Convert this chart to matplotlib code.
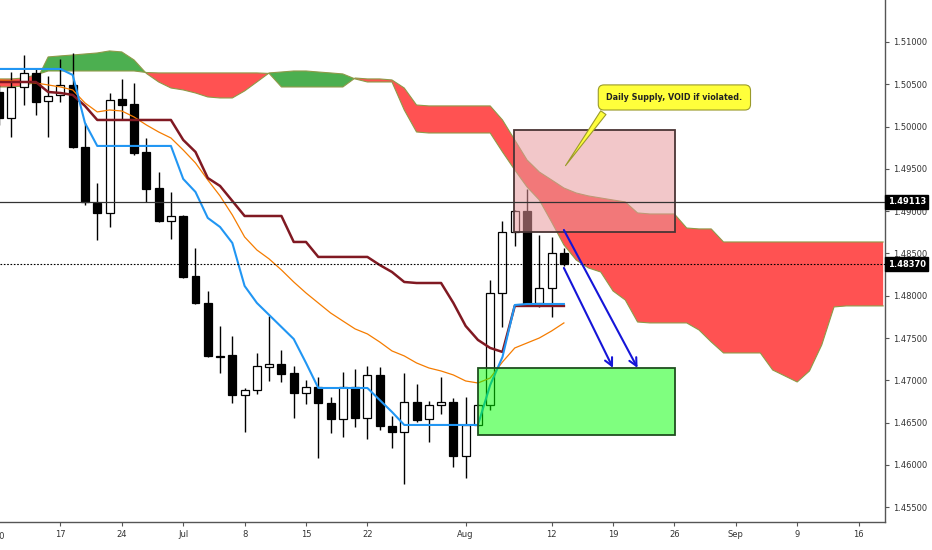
import numpy as np
import matplotlib
matplotlib.use("Agg")
import matplotlib.pyplot as plt
import matplotlib.transforms as mtransforms
from matplotlib.patches import Rectangle

# daily candles, Jun 10 .. Aug 13 (trading-day index 0..46)
opens = [1.50409, 1.50102, 1.50468, 1.50634, 1.50303, 1.50374, 1.50492, 1.49759, 1.49100, 1.48979,
         1.50326, 1.50267, 1.49700, 1.49274, 1.48884, 1.48943, 1.48234, 1.47915, 1.47289, 1.47300,
         1.46828, 1.46887, 1.47158, 1.47194, 1.47087, 1.46851, 1.46922, 1.46733, 1.46544, 1.46922,
         1.46556, 1.47064, 1.46461, 1.46390, 1.46745, 1.46544, 1.46709, 1.46745, 1.46106, 1.46473,
         1.46709, 1.48033, 1.48754, 1.49002, 1.47915, 1.48092, 1.48506]
highs = [1.50492, 1.50645, 1.50846, 1.50681, 1.50598, 1.50799, 1.50870, 1.50043, 1.49333, 1.50397,
         1.50563, 1.50515, 1.49865, 1.49463, 1.49227, 1.48955, 1.48565, 1.48057, 1.47643, 1.47525,
         1.46910, 1.47324, 1.47761, 1.47359, 1.47170, 1.47005, 1.47040, 1.46804, 1.47099, 1.47135,
         1.47170, 1.47158, 1.46579, 1.47087, 1.46958, 1.46757, 1.47040, 1.46792, 1.46804, 1.46721,
         1.48187, 1.48884, 1.49014, 1.49262, 1.48719, 1.48695, 1.48565]
lows = [1.50019, 1.49877, 1.50255, 1.50137, 1.49877, 1.50291, 1.49747, 1.49073, 1.48660, 1.48813,
        1.50078, 1.49664, 1.49109, 1.48872, 1.48671, 1.48210, 1.47903, 1.47277, 1.47087, 1.46733,
        1.46390, 1.46839, 1.46993, 1.46981, 1.46556, 1.46721, 1.46083, 1.46378, 1.46331, 1.46449,
        1.46307, 1.46414, 1.46201, 1.45775, 1.46508, 1.46272, 1.46603, 1.45976, 1.45846, 1.46461,
        1.46650, 1.47631, 1.48589, 1.47891, 1.47868, 1.47749, 1.48355]
closes = [1.50102, 1.50468, 1.50634, 1.50291, 1.50362, 1.50492, 1.49759, 1.49109, 1.48979, 1.50314,
          1.50255, 1.49688, 1.49262, 1.48884, 1.48943, 1.48222, 1.47915, 1.47289, 1.47277, 1.46828,
          1.46887, 1.47170, 1.47194, 1.47076, 1.46851, 1.46922, 1.46733, 1.46544, 1.46922, 1.46556,
          1.47064, 1.46461, 1.46390, 1.46745, 1.46532, 1.46709, 1.46745, 1.46106, 1.46473, 1.46709,
          1.48033, 1.48754, 1.49002, 1.47903, 1.48092, 1.48506, 1.48370]

# ichimoku conversion / base lines and the orange average
tenkan = [1.50681, 1.50681, 1.50681, 1.50681, 1.50681, 1.50681, 1.50610, 1.50043, 1.49771, 1.49771,
          1.49771, 1.49771, 1.49771, 1.49771, 1.49771, 1.49381, 1.49227, 1.48920, 1.48813, 1.48624,
          1.48116, 1.47915, 1.47773, 1.47631, 1.47489, 1.47206, 1.46910, 1.46910, 1.46910, 1.46910,
          1.46910, 1.46768, 1.46627, 1.46473, 1.46473, 1.46473, 1.46473, 1.46473, 1.46473, 1.46473,
          1.46946, 1.47277, 1.47891, 1.47903, 1.47903, 1.47903, 1.47903]
kijun = [1.50527, 1.50527, 1.50527, 1.50527, 1.50409, 1.50397, 1.50374, 1.50244, 1.50078, 1.50078,
         1.50078, 1.50078, 1.50078, 1.50078, 1.50078, 1.49842, 1.49700, 1.49392, 1.49298, 1.49121,
         1.48943, 1.48943, 1.48943, 1.48943, 1.48636, 1.48636, 1.48459, 1.48459, 1.48459, 1.48459,
         1.48459, 1.48364, 1.48281, 1.48163, 1.48151, 1.48151, 1.48151, 1.47915, 1.47643, 1.47478,
         1.47383, 1.47336, 1.47880, 1.47880, 1.47880, 1.47880, 1.47880]
ema = [1.50551, 1.50539, 1.50527, 1.50515, 1.50492, 1.50468, 1.50433, 1.50279, 1.50173, 1.50196,
       1.50184, 1.50113, 1.50019, 1.49936, 1.49865, 1.49723, 1.49570, 1.49369, 1.49180, 1.48955,
       1.48695, 1.48541, 1.48435, 1.48305, 1.48163, 1.48033, 1.47915, 1.47797, 1.47702, 1.47608,
       1.47549, 1.47454, 1.47348, 1.47289, 1.47206, 1.47147, 1.47111, 1.47064, 1.46993, 1.46969,
       1.47028, 1.47218, 1.47383, 1.47442, 1.47501, 1.47584, 1.47679]

# cloud, already shifted forward (index 0..72)
span_a = [1.50468, 1.50468, 1.50480, 1.50527, 1.50823, 1.50835, 1.50846, 1.50858, 1.50870, 1.50894,
          1.50882, 1.50787, 1.50628, 1.50527, 1.50456, 1.50433, 1.50397, 1.50350, 1.50338, 1.50338,
          1.50421, 1.50527, 1.50634, 1.50645, 1.50657, 1.50657, 1.50645, 1.50634, 1.50622, 1.50563,
          1.50527, 1.50527, 1.50527, 1.50196, 1.49936, 1.49924, 1.49924, 1.49924, 1.49924, 1.49924,
          1.49924, 1.49700, 1.49487, 1.49286, 1.49132, 1.48872, 1.48601, 1.48423, 1.48329, 1.48281,
          1.48057, 1.47950, 1.47690, 1.47679, 1.47679, 1.47679, 1.47679, 1.47596, 1.47454, 1.47324,
          1.47324, 1.47324, 1.47324, 1.47123, 1.47052, 1.46981, 1.47111, 1.47419, 1.47868, 1.47880,
          1.47880, 1.47880, 1.47880]
span_b = [1.50563, 1.50563, 1.50574, 1.50610, 1.50657, 1.50657, 1.50657, 1.50657, 1.50657, 1.50657,
          1.50657, 1.50657, 1.50639, 1.50634, 1.50634, 1.50634, 1.50634, 1.50634, 1.50634, 1.50634,
          1.50634, 1.50634, 1.50628, 1.50468, 1.50468, 1.50468, 1.50468, 1.50468, 1.50468, 1.50574,
          1.50563, 1.50563, 1.50551, 1.50456, 1.50255, 1.50244, 1.50244, 1.50244, 1.50244, 1.50244,
          1.50244, 1.50078, 1.49842, 1.49605, 1.49463, 1.49369, 1.49274, 1.49215, 1.49180, 1.49156,
          1.49132, 1.49109, 1.48979, 1.48967, 1.48967, 1.48967, 1.48801, 1.48790, 1.48790, 1.48636,
          1.48636, 1.48636, 1.48636, 1.48636, 1.48636, 1.48636, 1.48636, 1.48636, 1.48636, 1.48636,
          1.48636, 1.48636, 1.48636]

tick_pos = [5, 10, 15, 20, 25, 30, 38, 45, 50, 55, 60, 65, 70]
tick_labels = ["17", "24", "Jul", "8", "15", "22", "Aug", "12", "19", "26", "Sep", "9", "16"]
price_ticks = [1.455, 1.460, 1.465, 1.470, 1.475, 1.480, 1.485, 1.490, 1.495, 1.500, 1.505, 1.510]

# drawn zones
supply_zone = (41.95, 55.05, 1.48754, 1.49960)
demand_zone = (39.0, 55.05, 1.46355, 1.47147)
arrows = [((46.0, 1.48329), (50.0, 1.47147)), ((46.0, 1.48778), (52.0, 1.47147))]
level_line = 1.49113
last_price = 1.48370

fig = plt.figure(figsize=(9.32, 5.5), dpi=100)
ax = fig.add_axes([0, 28 / 550, 885 / 932, 522 / 550])
ax.set_xlim(0.08, 72.15)
ax.set_ylim(1.45326, 1.51496)

# cloud
lead_x = np.arange(len(span_a))
a = np.array(span_a)
b = np.array(span_b)
ax.fill_between(lead_x, a, b, where=a >= b, interpolate=True, color="#4caf50", lw=0, zorder=1)
ax.fill_between(lead_x, a, b, where=a < b, interpolate=True, color="#ff5252", lw=0, zorder=1)
ax.plot(lead_x, a, color="#8e9a48", lw=0.8, zorder=1.5)
ax.plot(lead_x, b, color="#8e9a48", lw=0.8, zorder=1.5)

# candles
x = np.arange(len(closes))
o = np.array(opens)
c = np.array(closes)
up = c >= o
ax.vlines(x, lows, highs, color="black", lw=1, zorder=3)
body_lo = np.minimum(o, c)
body_h = np.maximum(np.abs(c - o), 0.00003)
ax.bar(x, body_h, bottom=body_lo, width=0.65, color=np.where(up, "white", "black"),
       edgecolor="black", lw=0.9, zorder=4)

# indicator lines
ax.plot(x, ema, color="#f57c00", lw=0.9, zorder=5)
ax.plot(x, kijun, color="#801922", lw=1.8, zorder=5)
ax.plot(x, tenkan, color="#2196f3", lw=1.5, zorder=5)

# zones
x0, x1, y0, y1 = supply_zone
ax.add_patch(Rectangle((x0, y0), x1 - x0, y1 - y0, facecolor=(0.91, 0.60, 0.61, 0.54),
                       edgecolor="#4a3535", lw=1.3, zorder=6))
x0, x1, y0, y1 = demand_zone
ax.add_patch(Rectangle((x0, y0), x1 - x0, y1 - y0, facecolor=(0.0, 1.0, 0.0, 0.5),
                       edgecolor="#1f4f1f", lw=1.3, zorder=6))

for start, end in arrows:
    ax.annotate("", xy=end, xytext=start, zorder=8,
                arrowprops=dict(arrowstyle="->", color="#1515d8", lw=1.5, mutation_scale=14,
                                shrinkA=0, shrinkB=0))

# price lines
ax.axhline(level_line, color="#333333", lw=0.9, zorder=7)
ax.axhline(last_price, color="black", lw=0.8, ls=(0, (1.5, 1.5)), zorder=7)

trans = mtransforms.blended_transform_factory(ax.transAxes, ax.transData)
for val in (level_line, last_price):
    ax.text(1.003, val, f"{val:.5f}", transform=trans, ha="left", va="center", color="white",
            fontsize=6, fontweight="bold", clip_on=False, zorder=10,
            bbox=dict(boxstyle="square,pad=0.3", fc="black", ec="black"))

# callout
ax.annotate("Daily Supply, VOID if violated.", xy=(46.0, 1.49511), xytext=(55.0, 1.50344),
            ha="center", va="center", fontsize=5.8, fontweight="bold", color="#222222", zorder=9,
            bbox=dict(boxstyle="round,pad=1.0,rounding_size=0.7", fc="#ffff3b", ec="#9a9a2a", lw=0.8),
            arrowprops=dict(arrowstyle="wedge,tail_width=0.8,shrink_factor=0.5", fc="#ffff3b",
                            ec="#9a9a2a", lw=0.8, relpos=(0.04, 0.12)))

# axes styling
ax.yaxis.tick_right()
ax.set_yticks(price_ticks)
ax.set_yticklabels([f"{p:.5f}" for p in price_ticks])
ax.set_xticks(tick_pos)
ax.set_xticklabels(tick_labels)
ax.tick_params(axis="both", length=3, color="#555555", labelsize=6, labelcolor="#333333", pad=3)
ax.text(0, -0.02, "10", transform=mtransforms.blended_transform_factory(ax.transData, ax.transAxes),
        ha="center", va="top", fontsize=6, color="#333333", clip_on=False)
for side in ("top", "left"):
    ax.spines[side].set_visible(False)
for side in ("right", "bottom"):
    ax.spines[side].set_color("#555555")
    ax.spines[side].set_linewidth(1)

fig.savefig("out.png", dpi=100, facecolor="white")
